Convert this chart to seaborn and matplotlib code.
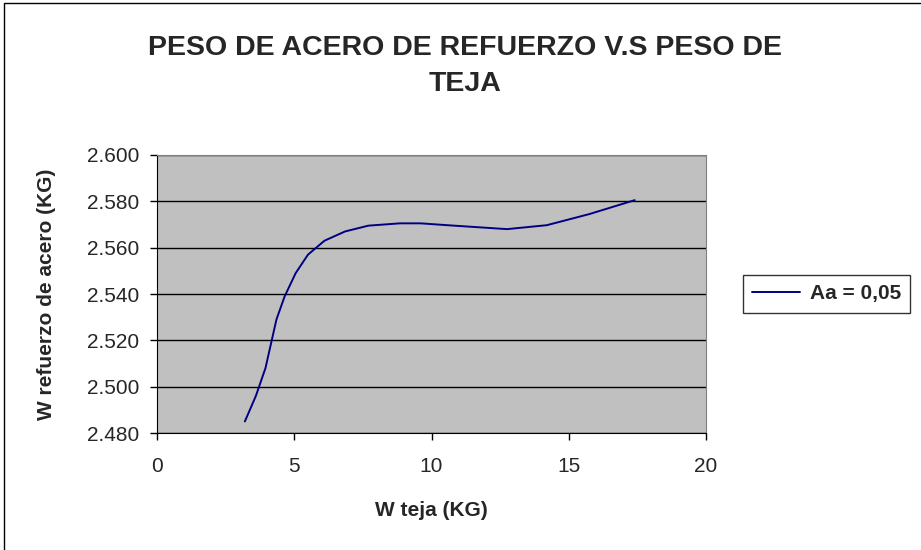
import matplotlib
matplotlib.use("Agg")
import matplotlib.pyplot as plt
from matplotlib.patches import Rectangle
from matplotlib.ticker import FormatStrFormatter
import seaborn as sns
import pandas as pd

# values
w_teja = [3.2, 3.6, 3.95, 4.35, 4.65, 5.05, 5.5, 6.1, 6.85, 7.7, 8.85, 9.6, 10.7, 12.75, 14.2, 15.75, 17.4]
w_acero = [2.485, 2.496, 2.508, 2.529, 2.539, 2.549, 2.557, 2.563, 2.567, 2.5695, 2.5705, 2.5705, 2.5696, 2.568, 2.5697, 2.5745, 2.5805]
serie = "Aa = 0,05"

df = pd.DataFrame({"x": w_teja, "y": w_acero, "serie": serie})

sns.set_style("white")
plt.rcParams["font.family"] = ["Liberation Sans", "DejaVu Sans"]

fig = plt.figure(figsize=(9.21, 5.5), dpi=100)
ax = fig.add_axes([0.1705, 0.2127, 0.5961, 0.5055])
ax.set_facecolor("#C0C0C0")

sns.lineplot(data=df, x="x", y="y", hue="serie", palette=["#000080"], sort=False,
             linewidth=1.4, ax=ax)

ax.set_xlim(0, 20)
ax.set_ylim(2.48, 2.60)
ax.set_xticks([0, 5, 10, 15, 20])
ax.set_yticks([2.48, 2.50, 2.52, 2.54, 2.56, 2.58, 2.60])
ax.yaxis.set_major_formatter(FormatStrFormatter("%.3f"))
ax.grid(axis="y", color="black", linewidth=1)
ax.set_axisbelow(True)
ax.tick_params(axis="both", labelsize=15, direction="out", length=5, width=1, color="black",
               left=True, bottom=True)
ax.tick_params(axis="x", pad=12)
ax.tick_params(axis="y", pad=8)

for side in ["left", "bottom"]:
    ax.spines[side].set_color("black")
for side in ["top", "right"]:
    ax.spines[side].set_color("#808080")

ax.set_xlabel("W teja (KG)", fontsize=15, fontweight="bold", labelpad=18)
ax.set_ylabel("W refuerzo de acero (KG)", fontsize=15, fontweight="bold", labelpad=22)

fig.text(0.505, 0.88, "PESO DE ACERO DE REFUERZO V.S PESO DE\nTEJA", ha="center", va="center",
         fontsize=20.5, fontweight="bold", linespacing=1.5)

ax.get_legend().remove()
leg = fig.legend(handles=ax.get_lines()[:1], labels=[serie], loc="center left",
                 bbox_to_anchor=(0.8067, 0.4655), frameon=True, fancybox=False,
                 edgecolor="black", prop={"size": 15, "weight": "bold"},
                 handlelength=2.3, handletextpad=0.45, borderpad=0.45, borderaxespad=0)
leg.get_frame().set_linewidth(1)

fig.patches.append(Rectangle((4 / 921, -0.1), 1.2, 1.1 - 3 / 550, transform=fig.transFigure,
                             fill=False, edgecolor="black", linewidth=1))

fig.savefig("out.png", dpi=100)
